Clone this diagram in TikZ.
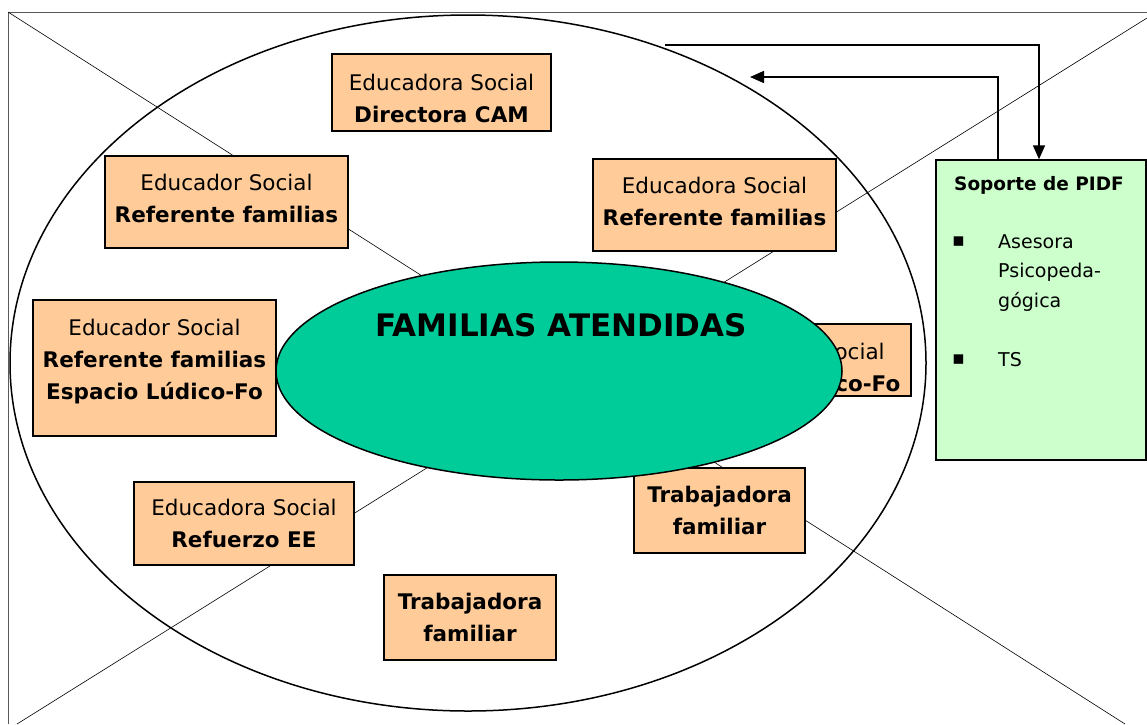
\documentclass[tikz,border=0pt]{standalone}
\usepackage{fontspec}
\setmainfont{DejaVu Sans}
\usetikzlibrary{arrows.meta,shapes.geometric}
\definecolor{peach}{HTML}{FFCC99}
\definecolor{mintbox}{HTML}{CCFFCC}
\definecolor{famgreen}{HTML}{00CC99}
\tikzset{
  rolebox/.style={draw=black, line width=1.4pt, fill=peach, inner sep=0pt},
  roletext/.style={align=center, inner sep=0pt, font=\fontsize{21.5}{32}\selectfont},
  pidfbox/.style={draw=black, line width=1.4pt, fill=mintbox, inner sep=0pt},
  pidftext/.style={font=\fontsize{19}{30}\selectfont, anchor=west, inner sep=0pt},
  flow/.style={draw=black, line width=1.6pt, -{Triangle[length=14pt,width=12pt]}},
  diag/.style={draw=black, line width=0.6pt},
  frame/.style={draw=gray!70!black, line width=1pt}
}
\begin{document}
\begin{tikzpicture}[x=1pt,y=-1pt]
\useasboundingbox (0,0) rectangle (1147,724);
\fill[white] (0,0) rectangle (1147,724);
% frame and diagonals
\draw[frame] (8,724) -- (8,12) -- (1147,12);
\draw[diag] (8,12) -- (1125,724);
\draw[diag] (1147,18) -- (17,724);
% outer ellipse
\node[draw, ellipse, line width=1.5pt, minimum width=916pt, minimum height=696pt, inner sep=0pt] (outer) at (468,363) {};
% role boxes
\node[rolebox, minimum width=219pt, minimum height=77pt] (dir) at (441.5,92.5) {};
\node[roletext] (dirt) at ([yshift=-5.5pt]dir.center) {Educadora Social\\\textbf{Directora CAM}};
\node[rolebox, minimum width=243pt, minimum height=92pt] (reftl) at (226.5,202) {};
\node[roletext] (reftlt) at ([yshift=4pt]reftl.center) {Educador Social\\\textbf{Referente familias}};
\node[rolebox, minimum width=243pt, minimum height=92pt] (reftr) at (714.5,205) {};
\node[roletext] (reftrt) at ([yshift=3.5pt]reftr.center) {Educadora Social\\\textbf{Referente familias}};
\node[rolebox, minimum width=243pt, minimum height=136pt] (refesp) at (154.5,368) {};
\node[roletext] (refespt) at ([yshift=6pt]refesp.center) {Educador Social\\\textbf{Referente familias}\\\textbf{Espacio Lúdico-Fo}};
\node[rolebox, minimum width=238pt, minimum height=72pt] (esphid) at (792,360) {};
\node[roletext] (esphidt) at ([yshift=-10pt]esphid.center) {Educadora Social\\\textbf{Espacio Lúdico-Fo}};
\node[rolebox, minimum width=220pt, minimum height=83pt] (refuerzo) at (244,523.5) {};
\node[roletext] (refuerzot) at (refuerzo.center) {Educadora Social\\\textbf{Refuerzo EE}};
\node[rolebox, minimum width=171pt, minimum height=85pt] (trab1) at (719.5,510.5) {};
\node[roletext] (trab1t) at (trab1.center) {\textbf{Trabajadora}\\\textbf{familiar}};
\node[rolebox, minimum width=172pt, minimum height=85pt] (trab2) at (470,617.5) {};
\node[roletext] (trab2t) at (trab2.center) {\textbf{Trabajadora}\\\textbf{familiar}};
% central ellipse
\node[draw, ellipse, fill=famgreen, line width=1.5pt, minimum width=566pt, minimum height=218pt, inner sep=0pt] (fam) at (559,371) {};
\node[font=\fontsize{31}{36}\selectfont\bfseries, inner sep=0pt] (famlabel) at (561,325) {FAMILIAS ATENDIDAS};
% PIDF box
\node[pidfbox, minimum width=210pt, minimum height=300pt] (pidf) at (1041,310) {};
\node[font=\fontsize{18.5}{22}\selectfont\bfseries, inner sep=0pt] (pidft) at (1039,185) {Soporte de PIDF};
\node[pidftext] (b1) at (952,242) {▪};
\node[pidftext] (as1) at (998,242) {Asesora};
\node[pidftext] (as2) at (998,272) {Psicopeda-};
\node[pidftext] (as3) at (998,302) {gógica};
\node[pidftext] (b2) at (952,360) {▪};
\node[pidftext] (ts) at (998,360) {TS};
% arrows
\coordinate (a1s) at (665,45);
\coordinate (a2e) at (750,77);
\draw[flow] (a1s) -| ([xshift=-2pt]pidf.north);
\draw[flow] ([xshift=-43pt]pidf.north) |- (a2e);
\end{tikzpicture}
\end{document}
